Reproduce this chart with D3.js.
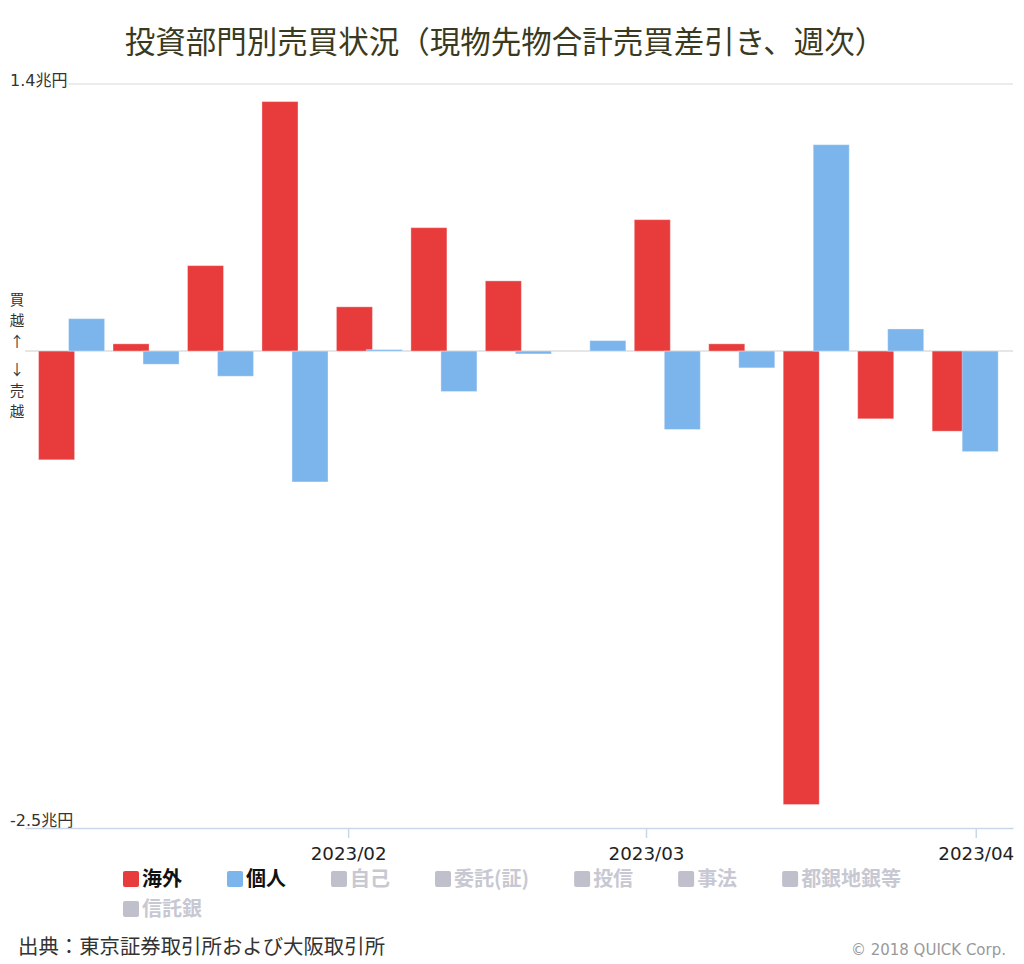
<!DOCTYPE html>
<html><head><meta charset="utf-8">
<script src="https://cdn.jsdelivr.net/npm/d3@7/dist/d3.min.js"></script>
<style>
html,body{margin:0;padding:0;background:#fff;}
svg{display:block;}
</style></head>
<body>
<svg id="chart" width="1024" height="964"></svg>
<script>
// ---- data ----
const weeks = ["2023-01-06","2023-01-13","2023-01-20","2023-01-27","2023-02-03","2023-02-10","2023-02-17","2023-02-24","2023-03-03","2023-03-10","2023-03-17","2023-03-24","2023-03-31"];
const foreign    = [-0.570, 0.038, 0.448, 1.308, 0.232, 0.647, 0.368, 0.000, 0.689, 0.038, -2.377, -0.355, -0.420];
const individual = [ 0.170,-0.069,-0.132,-0.686, 0.008,-0.212,-0.015, 0.055,-0.411,-0.088,  1.082,  0.116, -0.527];
const seriesNames = ["海外","個人"];
const legendNames = ["海外","個人","自己","委託(証)","投信","事法","都銀地銀等","信託銀"];
const yTicks = [1.4, -2.5];
const yTickLabels = ["1.4兆円","-2.5兆円"];
const monthTicks = ["2023-02-01","2023-03-01","2023-04-01"];
const titleText = "投資部門別売買状況（現物先物合計売買差引き、週次）";
const sourceText = "出典：東京証券取引所および大阪取引所";
const creditText = "© 2018 QUICK Corp.";

(function(){
const parse = s => { const [yy,m,d] = s.split("-").map(Number); return new Date(yy, m-1, d); };
const colors = {"海外":"#e83c3c","個人":"#7cb5ec"};
const inactiveSq = "#c0c0cc", inactiveTx = "#c8c8d2";

const svg = d3.select("#chart");
const pL = 25, pR = 1013, pT = 84, pB = 828;

const x = d3.scaleTime()
  .domain([new Date(2023,0,1,15), new Date(2023,3,4,12)])
  .range([pL, pR]);
const y = d3.scaleLinear().domain([-2.5, 1.4]).range([pB, pT]);

// title
svg.append("text").attr("x", 505).attr("y", 53).attr("text-anchor","middle")
  .attr("font-family","'Noto Sans CJK JP'").attr("font-size", 30.5).attr("fill","#3a3a20")
  .text(titleText);

// gridlines
svg.append("line").attr("x1",pL).attr("x2",pR).attr("y1",y(1.4)).attr("y2",y(1.4))
  .attr("stroke","#e6e6e6").attr("stroke-width",1.5);
svg.append("line").attr("x1",pL).attr("x2",pR).attr("y1",y(0)).attr("y2",y(0))
  .attr("stroke","#e6e6e6").attr("stroke-width",2);

// y labels
yTicks.forEach((v,i) => {
  const g = svg.append("g");
  const t = g.append("text").attr("x",10).attr("y", y(v) + (v > 0 ? 2 : -2))
    .attr("font-family","'DejaVu Sans','Noto Sans CJK JP'").attr("font-size",16).attr("fill","#333")
    .text(yTickLabels[i]);
  if (v > 0) {
    const bb = t.node().getBBox();
    g.insert("rect", "text").attr("x", bb.x-1).attr("y", bb.y).attr("width", bb.width+2).attr("height", bb.height).attr("fill","#fff");
  }
});

// vertical axis caption
const capTop = ["買","越","↑"], capBot = ["↓","売","越"];
const capG = svg.append("g").attr("font-family","'Noto Sans CJK JP'").attr("font-size",14.5).attr("fill","#333").attr("text-anchor","middle");
capTop.forEach((c,i) => capG.append("text").attr("x",17).attr("y", y(0) - 53 + i*21).attr("dominant-baseline","central").text(c));
capBot.forEach((c,i) => capG.append("text").attr("x",17).attr("y", y(0) + 17 + i*21).attr("dominant-baseline","central").text(c));

// bars
const weekPx = x(parse("2023-01-13")) - x(parse("2023-01-06"));
const barW = weekPx * 0.484;
const offsets = {"海外": -weekPx*0.443, "個人": -weekPx*0.040};
const data = [];
weeks.forEach((w,i) => {
  data.push({name:"海外", date:parse(w), v:foreign[i]});
  data.push({name:"個人", date:parse(w), v:individual[i]});
});
svg.append("g").selectAll("rect").data(data.filter(d => d.v !== 0)).join("rect")
  .attr("x", d => x(d.date) + offsets[d.name])
  .attr("width", barW)
  .attr("y", d => Math.min(y(d.v), y(0)))
  .attr("height", d => Math.abs(y(d.v) - y(0)))
  .attr("fill", d => colors[d.name])
  .attr("stroke","#fff").attr("stroke-opacity",0.35).attr("stroke-width",1);

// x axis
const xAxis = d3.axisBottom(x).tickValues(monthTicks.map(parse)).tickFormat(d3.timeFormat("%Y/%m")).tickSize(10).tickSizeOuter(0);
const ax = svg.append("g").attr("transform",`translate(0,${pB})`).call(xAxis);
ax.select(".domain").attr("stroke","#ccd6eb").attr("stroke-width",1.5);
ax.selectAll(".tick line").attr("stroke","#ccd6eb").attr("stroke-width",1.5);
ax.selectAll(".tick text").attr("y",32).attr("dy",0)
  .attr("font-family","'DejaVu Sans'").attr("font-size",18.3).attr("fill","#222");

// legend
const lg = svg.append("g");
const sq = 16, gap = 3, itemGap = 45, rowMax = 800, lx0 = 123;
let lx = lx0, ly = 879;
legendNames.forEach(n => {
  const active = n in colors;
  const g = lg.append("g");
  const t = g.append("text").attr("x", lx + sq + gap).attr("y", ly + 7)
    .attr("font-family","'Noto Sans CJK JP'").attr("font-weight","bold").attr("font-size",20)
    .attr("fill", active ? "#111" : inactiveTx).text(n);
  const w = sq + gap + t.node().getComputedTextLength();
  if (lx + w > lx0 + rowMax) {
    lx = lx0; ly += 30;
    t.attr("x", lx + sq + gap).attr("y", ly + 7);
  }
  g.insert("rect","text").attr("x", lx).attr("y", ly - 8).attr("width", sq).attr("height", sq).attr("rx",2)
    .attr("fill", active ? colors[n] : inactiveSq);
  lx += w + itemGap;
});

// footer
svg.append("text").attr("x",18).attr("y",954)
  .attr("font-family","'Noto Sans CJK JP'").attr("font-size",20.4).attr("fill","#333").text(sourceText);
svg.append("text").attr("x",1006).attr("y",955).attr("text-anchor","end")
  .attr("font-family","'DejaVu Sans'").attr("font-size",15).attr("fill","#999").text(creditText);
})();
</script>
</body></html>
